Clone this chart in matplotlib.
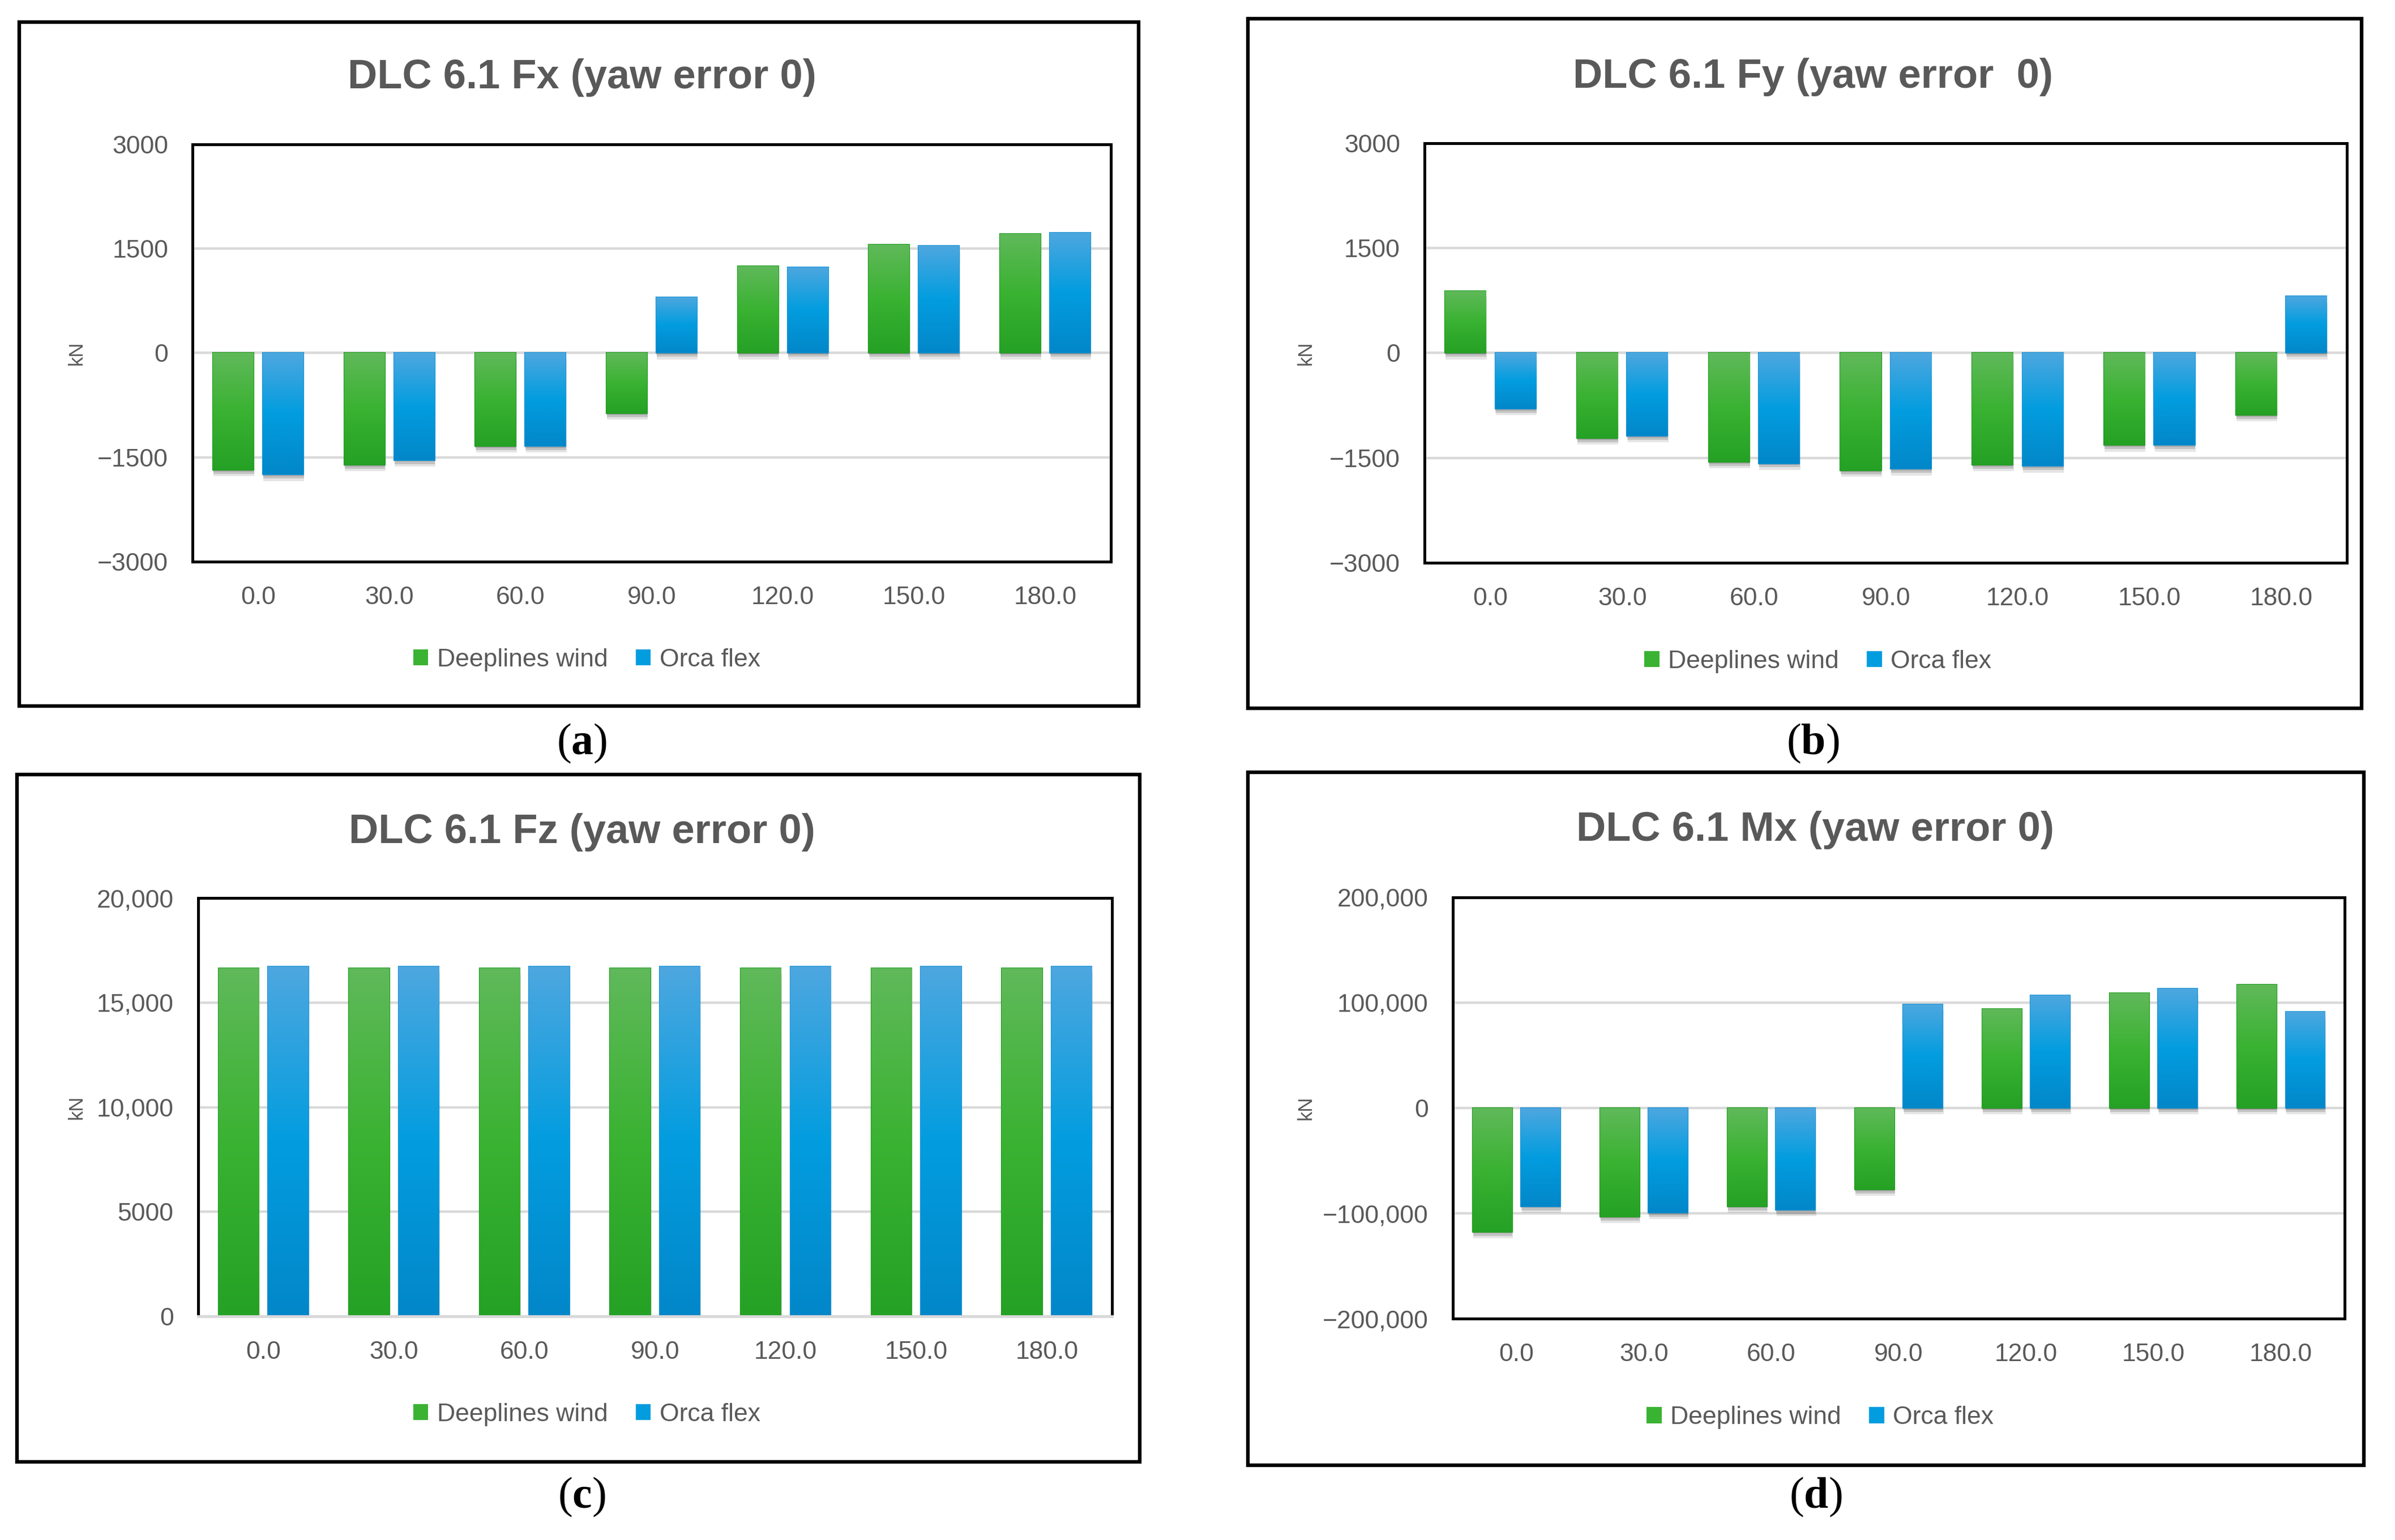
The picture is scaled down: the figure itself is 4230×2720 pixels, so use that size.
import numpy as np
import matplotlib
matplotlib.use("Agg")
import matplotlib.pyplot as plt
import matplotlib.patheffects as pe
from matplotlib.colors import LinearSegmentedColormap
from matplotlib.patches import Patch, Rectangle

yaw = ["0.0", "30.0", "60.0", "90.0", "120.0", "150.0", "180.0"]
series = ["Deeplines wind", "Orca flex"]

fx_deeplines = [-1680, -1610, -1340, -870, 1250, 1560, 1710]
fx_orca = [-1750, -1540, -1340, 800, 1230, 1540, 1730]
fy_deeplines = [890, -1220, -1560, -1680, -1600, -1320, -890]
fy_orca = [-800, -1190, -1580, -1660, -1620, -1320, 810]
fz_deeplines = [16650, 16650, 16650, 16650, 16650, 16650, 16650]
fz_orca = [16720, 16720, 16720, 16720, 16720, 16720, 16720]
mx_deeplines = [-117500, -103300, -93300, -77500, 94300, 109000, 117100]
mx_orca = [-93300, -99500, -96700, 98600, 107100, 113300, 91400]

force_ticks = [-3000, -1500, 0, 1500, 3000]
force_labels = ["\u22123000", "\u22121500", "0", "1500", "3000"]
fz_ticks = [0, 5000, 10000, 15000, 20000]
fz_labels = ["0", "5000", "10,000", "15,000", "20,000"]
mx_ticks = [-200000, -100000, 0, 100000, 200000]
mx_labels = ["\u2212200,000", "\u2212100,000", "0", "100,000", "200,000"]

titles = ["DLC 6.1 Fx (yaw error 0)", "DLC 6.1 Fy (yaw error  0)",
          "DLC 6.1 Fz (yaw error 0)", "DLC 6.1 Mx (yaw error 0)"]
letters = ["a", "b", "c", "d"]

GRAY = "#595959"
GRID = "#d9d9d9"
green_cm = LinearSegmentedColormap.from_list("g", ["#60b95a", "#3ab232", "#25a125"])
blue_cm = LinearSegmentedColormap.from_list("b", ["#4ea7df", "#029ddf", "#0287c9"])

plt.rcParams["font.family"] = ["Liberation Sans", "DejaVu Sans"]
plt.rcParams["mathtext.fontset"] = "custom"
plt.rcParams["mathtext.rm"] = "Liberation Serif"
plt.rcParams["mathtext.bf"] = "Liberation Serif:bold"

fig = plt.figure(figsize=(21.15, 13.6), dpi=200)

# axes rect, frame rect, title/legend/letter y, column centre x, kN x
layout = [
    dict(ax=[0.0804, 0.6353, 0.3834, 0.2710], frame=[0.008, 0.5415, 0.4675, 0.4442],
         ty=0.9495, ly=0.5715, py=0.517, cx=0.243, kx=0.032),
    dict(ax=[0.5948, 0.6346, 0.3852, 0.2724], frame=[0.521, 0.540, 0.465, 0.448],
         ty=0.950, ly=0.5705, py=0.517, cx=0.757, kx=0.5453),
    dict(ax=[0.0827, 0.1452, 0.3816, 0.2717], frame=[0.007, 0.0507, 0.469, 0.4463],
         ty=0.4595, ly=0.0815, py=0.028, cx=0.243, kx=0.032),
    dict(ax=[0.6066, 0.1437, 0.3724, 0.2736], frame=[0.521, 0.0485, 0.466, 0.45],
         ty=0.4612, ly=0.0795, py=0.028, cx=0.758, kx=0.5453),
]

data = [
    (fx_deeplines, fx_orca, force_ticks, force_labels),
    (fy_deeplines, fy_orca, force_ticks, force_labels),
    (fz_deeplines, fz_orca, fz_ticks, fz_labels),
    (mx_deeplines, mx_orca, mx_ticks, mx_labels),
]

grad = np.linspace(0, 1, 256).reshape(-1, 1)
shadow = [pe.SimplePatchShadow(offset=(0.5, -4), shadow_rgbFace="k", alpha=0.10),
          pe.SimplePatchShadow(offset=(0.3, -2.5), shadow_rgbFace="k", alpha=0.15),
          pe.SimplePatchShadow(offset=(0, -1), shadow_rgbFace="k", alpha=0.15),
          pe.Normal()]


def gradient_bars(ax, xs, vals, cmap, edge):
    bars = ax.bar(xs, vals, 0.31, color=cmap(0.5), edgecolor=edge, linewidth=0.8,
                  zorder=3, path_effects=shadow)
    for b in bars:
        x0, y0 = b.get_x(), b.get_y()
        y1 = y0 + b.get_height()
        im = ax.imshow(grad, cmap=cmap, extent=[x0, x0 + b.get_width(), min(y0, y1), max(y0, y1)],
                       origin="upper", aspect="auto", zorder=3.5, interpolation="bilinear")
        im.set_clip_path(b)


x = np.arange(len(yaw))
for i, (lay, (dw, of, ticks, labels)) in enumerate(zip(layout, data)):
    ax = fig.add_axes(lay["ax"])
    gradient_bars(ax, x - 0.19, dw, green_cm, "#1f9c1f")
    gradient_bars(ax, x + 0.19, of, blue_cm, "#1a93d3")

    ax.set_xlim(-0.5, len(yaw) - 0.5)
    ax.set_ylim(ticks[0], ticks[-1])
    ax.set_yticks(ticks)
    ax.set_yticklabels(labels)
    ax.set_xticks(x)
    ax.set_xticklabels(yaw)
    ax.tick_params(axis="y", length=0, pad=15.5, labelsize=16, labelcolor=GRAY)
    ax.tick_params(axis="x", length=0, pad=15.5, labelsize=16, labelcolor=GRAY)
    ax.yaxis.grid(True, color=GRID, linewidth=1.6, zorder=0)
    ax.set_axisbelow(True)
    for s in ax.spines.values():
        s.set_linewidth(1.8)
        s.set_color("black")
    if ticks[0] == 0:
        ax.spines["bottom"].set_color(GRID)
        ax.spines["bottom"].set_zorder(5)

    pos = ax.get_position()
    fig.text(lay["kx"], pos.y0 + pos.height / 2, "kN", rotation=90, ha="center", va="center",
             fontsize=12.5, color=GRAY)
    fig.text(lay["cx"], lay["ty"], titles[i], ha="center", va="center", fontsize=26,
             fontweight="bold", color=GRAY)
    handles = [Patch(facecolor=green_cm(0.5)), Patch(facecolor=blue_cm(0.5))]
    fig.legend(handles, series, loc="center", bbox_to_anchor=(lay["cx"] + 0.002, lay["ly"]),
               ncol=2, frameon=False, fontsize=16, handlelength=0.6, handleheight=0.6,
               handletextpad=0.35, columnspacing=1.1, labelcolor=GRAY)
    fig.add_artist(Rectangle(lay["frame"][:2], lay["frame"][2], lay["frame"][3],
                             transform=fig.transFigure, fill=False, linewidth=2.3,
                             edgecolor="black"))
    fig.text(lay["cx"], lay["py"], "($\\mathbf{%s}$)" % letters[i], ha="center", va="center",
             fontsize=28, family="Liberation Serif", color="black")

fig.savefig("out.png", dpi=200, facecolor="white")
